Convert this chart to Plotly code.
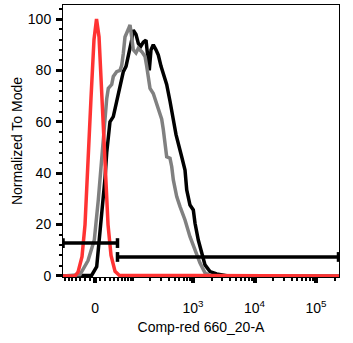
import numpy as np
import plotly.graph_objects as go

# ---- Biexponential-like display transform (channel units = decades) ----
C0 = 10 ** 1.41


def to_disp(v):
    v = np.asarray(v, dtype=float)
    return np.arcsinh(v / (2 * C0)) / np.log(10) + np.log10(C0)


# ---- Data (x in display units, y = % of mode) ----
red_x = [0.886, 1.081, 1.130, 1.195, 1.244, 1.293, 1.341, 1.390, 1.431, 1.472,
         1.520, 1.569, 1.618, 1.667, 1.732, 1.800, 5.374]
red_y = [0, 0, 1.5, 7.5, 20, 42, 69, 92, 100, 93, 69, 42, 20, 8, 1.8, 0.3, 0]

grey_x = [0.886, 1.163, 1.293, 1.395, 1.460, 1.515, 1.541, 1.569, 1.597, 1.623,
          1.678, 1.704, 1.759, 1.813, 1.841, 1.867, 1.894, 1.948, 1.976, 2.003,
          2.029, 2.073, 2.111, 2.166, 2.220, 2.247, 2.273, 2.301, 2.354, 2.410,
          2.463, 2.491, 2.517, 2.545, 2.572, 2.626, 2.654, 2.680, 2.735, 2.789,
          2.870, 2.951, 3.033, 3.114, 3.195, 3.276, 5.374]
grey_y = [0, 0.5, 6, 14, 29.6, 45, 53, 62, 69, 73,
          74.5, 77.6, 79.5, 80, 82, 86.7, 93, 96, 97.7, 93,
          88, 86.8, 88.6, 87.3, 85.4, 81.6, 77.6, 73, 71, 67,
          63.5, 61, 57, 52, 46.4, 45.8, 42.5, 37.4, 30.9, 27,
          21.8, 15.3, 10, 5, 1.2, 0.2, 0]

black_x = [0.886, 1.353, 1.434, 1.460, 1.488, 1.515, 1.569, 1.597, 1.623, 1.650,
           1.704, 1.732, 1.759, 1.813, 1.867, 1.911, 1.948, 1.976, 2.003, 2.029,
           2.073, 2.111, 2.150, 2.192, 2.236, 2.257, 2.289, 2.317, 2.354, 2.398,
           2.436, 2.480, 2.517, 2.572, 2.626, 2.680, 2.724, 2.816, 2.870, 2.898,
           2.951, 3.005, 3.033, 3.086, 3.141, 3.195, 3.276, 3.385, 3.548, 5.374]
black_y = [0, 0.3, 3.6, 10, 18, 26, 38, 48, 55, 60,
           62, 65, 68.5, 74.3, 79.5, 81.6, 85.4, 89.3, 91.8, 95.7,
           94, 90.5, 89.3, 91, 91.8, 87, 80, 88, 90, 88,
           86, 81.6, 79, 74.5, 68, 61, 55, 46.4, 41.2, 33.5,
           27.6, 25.7, 20.5, 14, 8.8, 4.3, 1.7, 0.8, 0.1, 0]

# gates: (x_start, x_end, level)
gate_left = [0.886, 1.772, 12.8]
gate_right = [1.772, 5.366, 7.4]

# ticks
major_raw = [0, 1e3, 1e4, 1e5]
major_text = ["0", "10<sup>3</sup>", "10<sup>4</sup>", "10<sup>5</sup>"]
minor_raw = ([-v for v in range(10, 100, 10)] + list(range(10, 100, 10))
             + list(range(100, 1000, 100)) + list(range(2000, 10000, 1000))
             + list(range(20000, 100000, 10000)) + [200000])
y_major = [0, 20, 40, 60, 80, 100]
y_minor = [v for v in range(0, 105, 4) if v % 20 != 0]

X_RANGE = [0.886, 5.374]
Y_RANGE = [-0.4, 105.45]

fig = go.Figure()
fig.add_trace(go.Scatter(x=black_x, y=black_y, mode="lines",
                         line=dict(color="#000000", width=3.5), hoverinfo="skip"))
fig.add_trace(go.Scatter(x=grey_x, y=grey_y, mode="lines",
                         line=dict(color="#808080", width=3.5), hoverinfo="skip"))
fig.add_trace(go.Scatter(x=red_x, y=red_y, mode="lines",
                         line=dict(color="#ff3333", width=3.5), hoverinfo="skip"))

cap = 1.9
for g in (gate_left, gate_right):
    x0, x1, lvl = g
    fig.add_shape(type="line", x0=x0, x1=x1, y0=lvl, y1=lvl, xref="x", yref="y",
                  line=dict(color="black", width=3.5))
    for xe in (x0, x1):
        fig.add_shape(type="line", x0=xe, x1=xe, y0=lvl - cap, y1=lvl + cap,
                      xref="x", yref="y", line=dict(color="black", width=3.5))

font = dict(family="Liberation Sans, Arial, sans-serif", size=14, color="black")

fig.update_layout(
    width=353, height=343,
    margin=dict(l=63, r=14, t=5, b=66),
    paper_bgcolor="white", plot_bgcolor="white",
    showlegend=False,
    font=font,
    xaxis=dict(
        range=X_RANGE, showgrid=False, zeroline=False,
        showline=True, linecolor="black", linewidth=1, mirror=True,
        tickmode="array", tickvals=list(to_disp(major_raw)), ticktext=major_text,
        ticks="outside", ticklen=5, tickwidth=4, tickcolor="black",
        ticklabelstandoff=13,
        minor=dict(tickmode="array", tickvals=list(to_disp(minor_raw)),
                   ticks="outside", ticklen=3, tickwidth=2, tickcolor="black",
                   showgrid=False),
        tickfont=font,
        title=dict(text="Comp-red 660_20-A", font=font, standoff=7),
    ),
    yaxis=dict(
        range=Y_RANGE, showgrid=False, zeroline=False,
        showline=True, linecolor="black", linewidth=1, mirror=True,
        tickmode="array", tickvals=y_major, ticktext=[str(v) for v in y_major],
        ticks="outside", ticklen=6, tickwidth=3, tickcolor="black",
        ticklabelstandoff=2,
        minor=dict(tickmode="array", tickvals=y_minor,
                   ticks="outside", ticklen=3, tickwidth=2, tickcolor="black",
                   showgrid=False),
        tickfont=font,
        title=dict(text="Normalized To Mode", font=font, standoff=1),
    ),
)

fig.write_html("out.html", config={"displayModeBar": False},
               post_script="document.body.style.margin='0px';")
